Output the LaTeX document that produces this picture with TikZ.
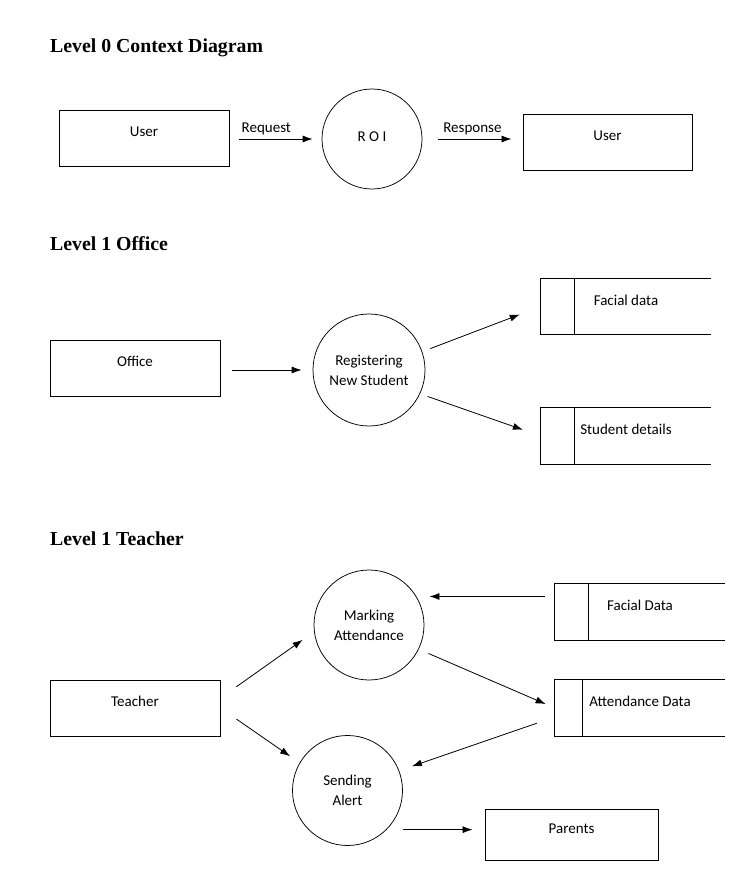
\documentclass[tikz,border=0pt]{standalone}
\usepackage{fontspec}
\setmainfont{Carlito}
\newfontfamily\headfont{Liberation Serif}
\usetikzlibrary{arrows.meta}

\begin{document}
\begin{tikzpicture}[x=1pt,y=-1pt,
  every node/.style={font=\fontsize{15}{20}\selectfont},
  box/.style={draw,line width=1pt,inner sep=0pt,minimum width=170pt,minimum height=56pt,text height=10pt,text depth=13pt},
  store/.style={inner sep=0pt,minimum width=170pt,minimum height=56pt,text height=10pt,text depth=13pt},
  proc/.style={draw,circle,line width=0.75pt,inner sep=0pt,align=center},
  flow/.style={-{Latex[length=10pt,width=7pt]},line width=0.8pt},
  heading/.style={anchor=base west,inner sep=0pt,font=\headfont\bfseries\fontsize{19.8}{24}\selectfont}]
  \useasboundingbox (0,0) rectangle (753,886);

  % level 0
  \node[heading] (h0) at (50,52) {Level 0 Context Diagram};
  \node[box] (u1) at (144,138) {User};
  \node[proc,minimum size=100pt,text depth=4pt] (roi) at (372,139) {R O I};
  \node[box,minimum width=169pt] (u2) at (607.5,142) {User};
  \draw[flow,shorten <=9pt,shorten >=9pt] (roi.west -| u1.east) -- node[above,pos=0.4] {Request} (roi.west);
  \draw[flow,shorten <=16pt,shorten >=11pt] (roi.east) -- node[above] {Response} (roi.east -| u2.west);

  % level 1 office
  \node[heading] (h1) at (50,250) {Level 1 Office};
  \node[box] (off) at (135,368) {Office};
  \node[proc,minimum size=112pt] (reg) at (369,370) {Registering\\New Student};
  \node[store,minimum height=55pt] (fd) at (626,306.5) {Facial data};
  \node[store] (sd) at (626,436) {Student details};
  \draw[flow,shorten <=11pt,shorten >=11pt] (reg.west -| off.east) -- (reg.west);
  \draw[flow,shorten <=8.5pt,shorten >=22.5pt] (reg.19) -- (fd.west);
  \draw[flow,shorten <=8pt,shorten >=19pt] (reg.-25) -- (sd.west);

  % level 1 teacher
  \node[heading] (h2) at (50,545) {Level 1 Teacher};
  \node[box] (tea) at (135,708) {Teacher};
  \node[proc,minimum size=110pt] (mark) at (369,625) {Marking\\Attendance};
  \node[proc,minimum size=110pt] (alert) at (347.5,790.5) {Sending\\Alert};
  \node[store] (fd2) at (640,612) {Facial Data};
  \node[store] (ad) at (640,708) {Attendance Data};
  \node[box,minimum width=173pt,minimum height=51pt] (par) at (571.5,834.5) {Parents};
  \draw[flow,shorten <=19.5pt,shorten >=14pt] ([yshift=10pt]tea.east) -- (mark.187);
  \draw[flow,shorten <=19.5pt,shorten >=11.5pt] (tea.east) -- (alert.150);
  \draw[flow,shorten <=10pt,shorten >=13pt] (mark.31 -| fd2.west) -- (mark.31);
  \draw[flow,shorten <=10.5pt,shorten >=10pt] (mark.-26) -- (ad.west);
  \draw[flow,shorten <=19pt,shorten >=13.5pt] ([yshift=-9pt]ad.west) -- (alert.21);
  \draw[flow,shorten <=16pt,shorten >=12pt] (alert.-45) -- (alert.-45 -| par.west);

  \foreach \s/\d in {fd/34,sd/34,fd2/34,ad/28}
    \draw[line width=1pt] (\s.north east) -- (\s.north west) -- (\s.south west) -- (\s.south east)
      ([xshift=\d pt]\s.north west) -- ([xshift=\d pt]\s.south west);
\end{tikzpicture}
\end{document}
